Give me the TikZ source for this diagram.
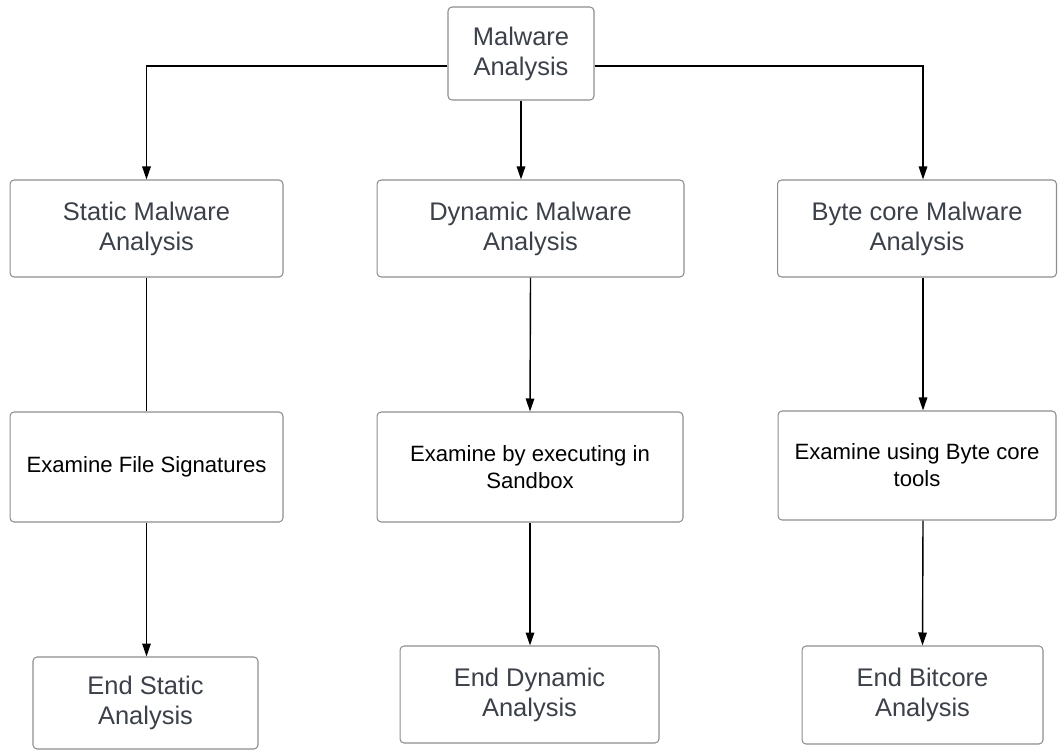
\documentclass[tikz,border=0pt]{standalone}
\usepackage{fontspec}
\setmainfont{Liberation Sans}
\usepackage{tikz}
\usetikzlibrary{arrows.meta}

\definecolor{boxline}{HTML}{8A8D91}
\definecolor{titletext}{HTML}{3B4049}

\begin{document}
\begin{tikzpicture}
[x=0.02cm,y=-0.02cm
,box/.style={draw=boxline,line width=0.6pt,rounded corners=0.8mm,inner sep=0pt,align=center}
,ttl/.style={box,text=titletext,font=\fontsize{14.5}{17}\selectfont}
,sub/.style={box,text=black,font=\fontsize{12.6}{15.3}\selectfont}
,ln/.style={draw=black,line width=0.8pt}
,ar/.style={ln,arrows={-Triangle[length=2.6mm,width=1.7mm]}}]
\useasboundingbox (0,0) rectangle (1060,751);
\node[ttl,minimum width=2.92cm,minimum height=1.86cm] (mal) at (521,53.5) {Malware\\Analysis};
\node[ttl,minimum width=5.46cm,minimum height=1.94cm] (stat) at (146.5,228.5) {Static Malware\\Analysis};
\node[ttl,minimum width=6.14cm,minimum height=1.94cm] (dyn) at (530.5,228.5) {Dynamic Malware\\Analysis};
\node[ttl,minimum width=5.58cm,minimum height=1.94cm] (byte) at (917,228.5) {Byte core Malware\\Analysis};
\node[sub,minimum width=5.46cm,minimum height=2.2cm] (exfs) at (146.5,467) {Examine File Signatures};
\node[sub,minimum width=6.12cm,minimum height=2.2cm] (exsb) at (530,467) {Examine by executing in\\Sandbox};
\node[sub,minimum width=5.56cm,minimum height=2.18cm] (exbc) at (917,465.5) {Examine using Byte core\\tools};
\node[ttl,minimum width=4.5cm,minimum height=1.84cm] (endS) at (145.5,703) {End Static\\Analysis};
\node[ttl,minimum width=5.18cm,minimum height=1.94cm] (endD) at (529.5,694.5) {End Dynamic\\Analysis};
\node[ttl,minimum width=4.82cm,minimum height=1.96cm] (endB) at (922.5,695) {End Bitcore\\Analysis};
\coordinate (cb) at (923,0);
% top level split
\draw[ar] ([yshift=-0.25cm]mal.west) -| (stat.north);
\draw[ar] (mal.south) -- (mal.south |- dyn.north);
\draw[ar] ([yshift=-0.25cm]mal.east) -| (byte.north -| cb);
% static branch
\draw[ln] (stat.south) -- (exfs.north);
\draw[ar] (exfs.south) -- (exfs.south |- endS.north);
% dynamic branch
\draw[ar] (dyn.south) -- (exsb.north);
\draw[ar] (exsb.south) -- (exsb.south |- endD.north);
% byte core branch
\draw[ar] (byte.south -| cb) -- (exbc.north -| cb);
\draw[ar] (exbc.south -| cb) -- (endB.north);
\end{tikzpicture}
\end{document}
